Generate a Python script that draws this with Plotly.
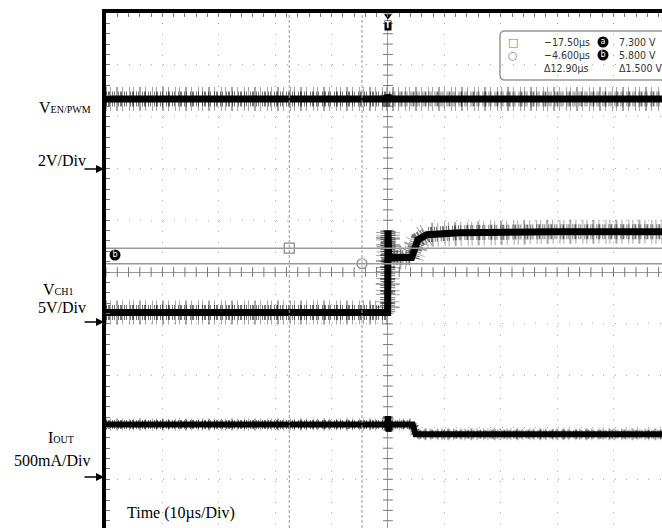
import plotly.graph_objects as go

# --- scope screen: 10 us/div horizontally, screen divisions vertically ---
X_RANGE = [-50, 48.6]          # us (right edge of the screen is cropped)
Y_RANGE = [-4.94, 5]           # divisions (bottom edge cropped)

# channel settings: (offset in div, units per div)
EN_OFFSET, EN_SCALE = 2, 2.0       # V/div
CH1_OFFSET, CH1_SCALE = -1, 5.0    # V/div
IOUT_OFFSET, IOUT_SCALE = -4, 500  # mA/div

# VEN/PWM (V)
en_t = [-50, -0.1, 0, 0.15, 48.6]
en_v = [2.68, 2.68, 2.85, 2.68, 2.68]

# VCH1 (V)
ch1_t = [-50, -0.05, 0, 0.15, 4.2, 5.3, 6.9, 12.7, 30, 48.6]
ch1_v = [1.1, 1.1, 9.0, 6.4, 6.4, 8.1, 8.6, 8.8, 8.9, 8.9]

# IOUT (mA)
iout_t = [-50, -0.1, 0, 0.1, 0.25, 4.4, 4.9, 48.6]
iout_v = [530, 530, 610, 460, 530, 530, 435, 435]

# cursors
cur_t = [-17.5, -4.6]
cur_v = [7.3, 5.8]

readout = [
    ["\u221217.50\u00b5s", "7.300 V"],
    ["\u22124.600\u00b5s", "5.800 V"],
    ["\u039412.90\u00b5s", "\u03941.500 V"],
]

W, H = 662, 528
L, T = 106, 13


def fx(px):
    return (px - L) / (W - L)


def fy(py):
    return (H - py) / (H - T)


def dx(px):
    return X_RANGE[0] + (px - L) / (W - L) * (X_RANGE[1] - X_RANGE[0])


def dy(py):
    return Y_RANGE[1] - (py - T) / (H - T) * (Y_RANGE[1] - Y_RANGE[0])


def ch_range(off, scale):
    return [(Y_RANGE[0] - off) * scale, (Y_RANGE[1] - off) * scale]


fig = go.Figure()

# noise is drawn as layered dashed bands (tall sparse spikes + denser short ones)
bands = [
    ("rgba(0,0,0,0.35)", "1px,3px,1px,5px,2px,4px,1px,6px"),
    ("rgba(0,0,0,0.55)", "1px,1px,2px,2px,1px,1px,1px,3px"),
]
traces = [
    (en_t, en_v, "y2", [24, 15], 7),
    (ch1_t, ch1_v, "y3", [24, 15], 7),
    (iout_t, iout_v, "y4", [12, 9], 6),
]
for t, v, ax, widths, core_w in traces:
    for (col, dash), w in zip(bands, widths):
        fig.add_trace(go.Scatter(x=t, y=v, yaxis=ax, mode="lines", hoverinfo="skip",
                                 line=dict(color=col, width=w, dash=dash)))
    fig.add_trace(go.Scatter(x=t, y=v, yaxis=ax, mode="lines",
                             line=dict(color="black", width=core_w)))

# tick crosses along the centre lines
xs = list(range(-50, 50, 2))
fig.add_trace(go.Scatter(x=xs, y=[0] * len(xs), mode="markers", hoverinfo="skip",
                         marker=dict(symbol="line-ns", size=7, line=dict(color="#777", width=1))))
ys = [round(-4.8 + 0.2 * i, 2) for i in range(50)]
fig.add_trace(go.Scatter(x=[0] * len(ys), y=ys, mode="markers", hoverinfo="skip",
                         marker=dict(symbol="line-ew", size=7, line=dict(color="#777", width=1))))

# cursor markers (square / circle) on CH1
fig.add_trace(go.Scatter(x=cur_t, y=cur_v, yaxis="y3", mode="markers", hoverinfo="skip",
                         marker=dict(symbol=["square-open", "circle-open"], size=10,
                                     color="#888", line=dict(width=1.2))))

# cursor lines
for t in cur_t:
    fig.add_shape(type="line", x0=t, x1=t, y0=0, y1=1, xref="x", yref="paper",
                  line=dict(color="#999", width=1, dash="3px,2px"))
for v in cur_v:
    fig.add_shape(type="line", x0=0, x1=1, y0=v, y1=v, xref="paper", yref="y3",
                  line=dict(color="#999", width=1.5))

# readout box (rounded)
bx0, bx1, by0, by1, r = fx(500), fx(680), fy(31), fy(80), 5
rx, ry = r / (W - L), r / (H - T)
path = (f"M {bx0+rx},{by0} L {bx1-rx},{by0} Q {bx1},{by0} {bx1},{by0-ry} "
        f"L {bx1},{by1+ry} Q {bx1},{by1} {bx1-rx},{by1} L {bx0+rx},{by1} "
        f"Q {bx0},{by1} {bx0},{by1+ry} L {bx0},{by0-ry} Q {bx0},{by0} {bx0+rx},{by0} Z")
fig.add_shape(type="path", path=path, xref="paper", yref="paper",
              line=dict(color="#999", width=1.5), fillcolor="white", layer="between")

rd_font = dict(family="Liberation Sans Narrow, DejaVu Sans Condensed, sans-serif", size=10.5, color="#333")
for i, (a, b) in enumerate(readout):
    py = 42 + 13 * i
    fig.add_annotation(x=fx(542), y=fy(py), xref="paper", yref="paper", text=a,
                       showarrow=False, xanchor="left", yanchor="middle", font=rd_font)
    fig.add_annotation(x=fx(617), y=fy(py), xref="paper", yref="paper", text=b,
                       showarrow=False, xanchor="left", yanchor="middle", font=rd_font)
for i, sym in enumerate(["\u25a1", "\u25cb"]):
    fig.add_annotation(x=fx(513), y=fy(42 + 13 * i), xref="paper", yref="paper", text=sym,
                       showarrow=False, xanchor="center", yanchor="middle",
                       font=dict(family="DejaVu Sans", size=11, color="#777"))

# black disc icons a / b
icons = [(603, 42, "a"), (603, 55, "b"), (115, 255, "b")]
fig.add_trace(go.Scatter(x=[dx(p[0]) for p in icons], y=[dy(p[1]) for p in icons],
                         mode="markers+text", text=[p[2] for p in icons], hoverinfo="skip",
                         textposition="middle center", cliponaxis=False,
                         textfont=dict(family="DejaVu Sans", size=8, color="white"),
                         marker=dict(symbol="circle", size=11, color="black")))

# trigger marker
fig.add_trace(go.Scatter(x=[0], y=[dy(16)], mode="markers", hoverinfo="skip", cliponaxis=False,
                         marker=dict(symbol="triangle-down", size=7, color="black")))
fig.add_annotation(x=0, y=dy(25), xref="x", yref="y", text="<b>T</b>", showarrow=False,
                   bgcolor="black", borderpad=0,
                   font=dict(family="DejaVu Sans", size=8, color="white"))

# channel labels
serif = dict(family="Liberation Serif, Times New Roman, serif", size=16, color="black")
sm = "<span style='font-size:10px'>{}</span>"
labels = [
    ("V" + sm.format("EN/PWM"), 65, 107),
    ("2V/Div", 62, 160),
    ("V" + sm.format("CH1"), 58, 290),
    ("5V/Div", 62, 307),
    ("I" + sm.format("OUT"), 61, 437),
    ("500mA/Div", 52, 460),
]
for txt, px, py in labels:
    fig.add_annotation(x=fx(px), y=fy(py), xref="paper", yref="paper", text=txt,
                       showarrow=False, xanchor="center", yanchor="middle", font=serif)
for py in [169, 322, 477]:
    fig.add_annotation(x=fx(104), y=fy(py), xref="paper", yref="paper", text="",
                       showarrow=True, ax=-21, ay=0, arrowhead=2, arrowsize=1,
                       arrowwidth=1.6, arrowcolor="black")
fig.add_annotation(x=fx(125), y=fy(513), xref="paper", yref="paper", text="Time (10\u00b5s/Div)",
                   showarrow=False, xanchor="left", yanchor="middle", font=serif)

grid = "#aaa"
fig.update_layout(
    width=W, height=H,
    margin=dict(l=L, r=0, t=T, b=0, autoexpand=False),
    paper_bgcolor="white", plot_bgcolor="white",
    showlegend=False,
    xaxis=dict(range=X_RANGE, side="top", dtick=10, tick0=0, showticklabels=False,
               showgrid=True, gridcolor=grid, gridwidth=1, griddash="1px,9.4px",
               zeroline=True, zerolinecolor="#999", zerolinewidth=1,
               showline=True, linecolor="black", linewidth=4,
               ticks="inside", ticklen=4, tickcolor="#777",
               minor=dict(dtick=2, ticks="inside", ticklen=4, tickcolor="#777", showgrid=False)),
    yaxis=dict(range=Y_RANGE, dtick=1, tick0=0, showticklabels=False,
               showgrid=True, gridcolor=grid, gridwidth=1, griddash="1px,10.3px",
               zeroline=True, zerolinecolor="#999", zerolinewidth=1,
               showline=True, linecolor="black", linewidth=4,
               ticks="inside", ticklen=4, tickcolor="#777",
               minor=dict(dtick=0.2, ticks="inside", ticklen=4, tickcolor="#777", showgrid=False)),
    yaxis2=dict(range=ch_range(EN_OFFSET, EN_SCALE), overlaying="y", visible=False),
    yaxis3=dict(range=ch_range(CH1_OFFSET, CH1_SCALE), overlaying="y", visible=False),
    yaxis4=dict(range=ch_range(IOUT_OFFSET, IOUT_SCALE), overlaying="y", visible=False),
)

# the page body has a default 8px margin; drop it so the figure sits at the window origin
fig.write_html("out.html", config={"displayModeBar": False},
               post_script="document.body.style.margin='0';")
